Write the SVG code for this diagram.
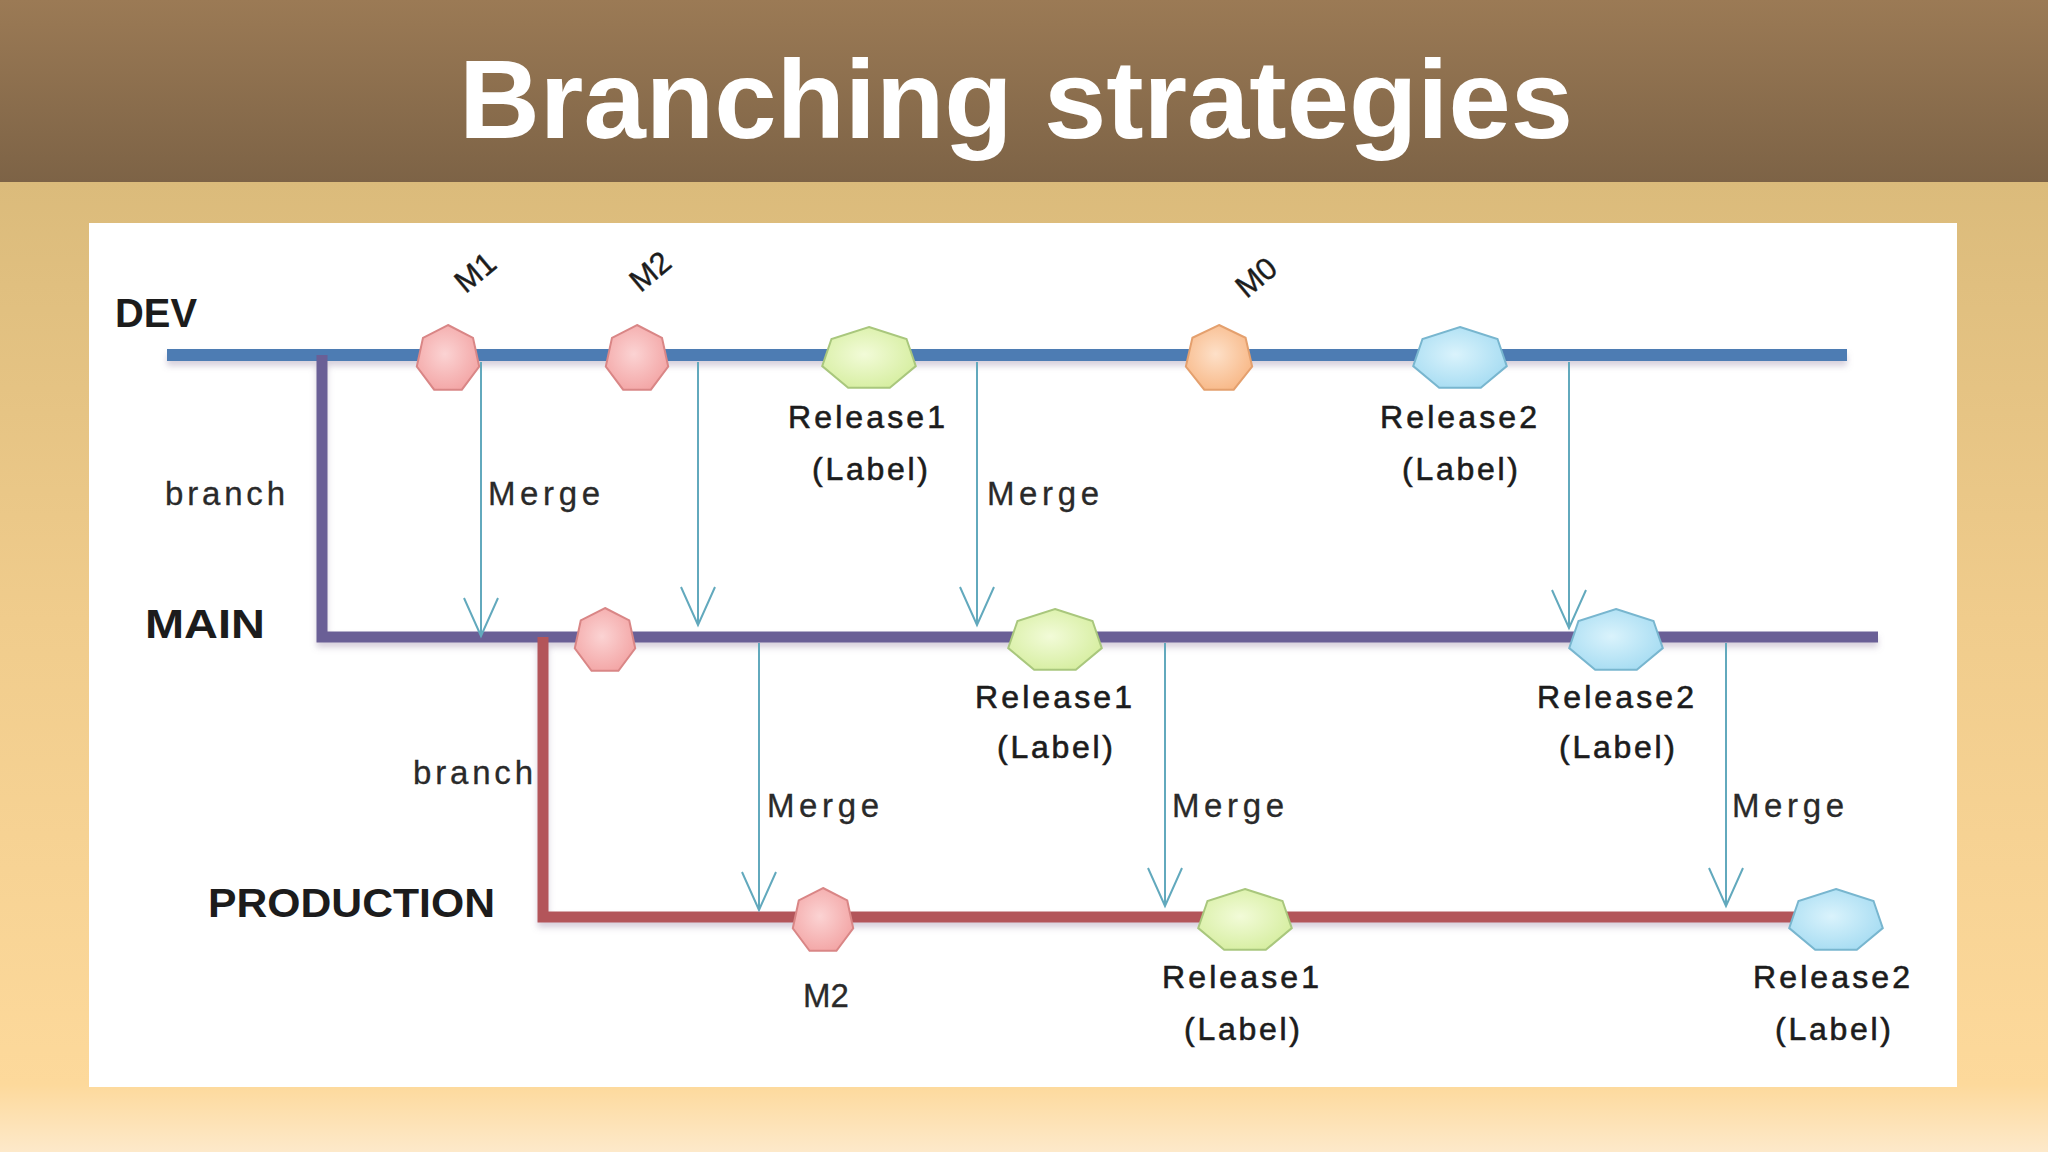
<svg xmlns="http://www.w3.org/2000/svg" width="2048" height="1152" viewBox="0 0 2048 1152">
  <defs>
    <linearGradient id="hdr" x1="0" y1="0" x2="0" y2="1">
      <stop offset="0" stop-color="#9b7a55"/>
      <stop offset="1" stop-color="#7d6346"/>
    </linearGradient>
    <linearGradient id="body" x1="0" y1="182" x2="0" y2="1152" gradientUnits="userSpaceOnUse">
      <stop offset="0" stop-color="#dbbb7b"/>
      <stop offset="0.45" stop-color="#f0cc8c"/>
      <stop offset="0.93" stop-color="#fdd99b"/>
      <stop offset="1" stop-color="#fde9ca"/>
    </linearGradient>
    <radialGradient id="gPink" cx="0.45" cy="0.45" r="0.6">
      <stop offset="0" stop-color="#fbd3d3"/>
      <stop offset="1" stop-color="#f3a5a5"/>
    </radialGradient>
    <radialGradient id="gGreen" cx="0.45" cy="0.45" r="0.6">
      <stop offset="0" stop-color="#f2fbd8"/>
      <stop offset="1" stop-color="#d6eea0"/>
    </radialGradient>
    <radialGradient id="gOrange" cx="0.45" cy="0.45" r="0.6">
      <stop offset="0" stop-color="#fde0c8"/>
      <stop offset="1" stop-color="#f8b887"/>
    </radialGradient>
    <radialGradient id="gBlue" cx="0.45" cy="0.45" r="0.6">
      <stop offset="0" stop-color="#daf3fc"/>
      <stop offset="1" stop-color="#a6dcf2"/>
    </radialGradient>
    <filter id="shadow" x="-5%" y="-50%" width="110%" height="300%">
      <feDropShadow dx="0" dy="5" stdDeviation="3" flood-color="#8a7a9a" flood-opacity="0.35"/>
    </filter>
    <polygon id="hept" points="0,-1 0.7818,-0.6235 0.9749,0.2225 0.4339,0.901 -0.4339,0.901 -0.9749,0.2225 -0.7818,-0.6235" vector-effect="non-scaling-stroke"/>
    <marker id="vhead" markerUnits="userSpaceOnUse" markerWidth="60" markerHeight="60" refX="0" refY="0" orient="auto" overflow="visible">
      <path d="M-38,-17 L0,0 L-38,17" fill="none" stroke="#62a9bd" stroke-width="2"/>
    </marker>
  </defs>
  <style>
    .lbl { font-family: "Liberation Sans", "DejaVu Sans", sans-serif; fill: #1c1c1c; }
    .big { font-weight: bold; font-size: 40px; }
    .reg { font-size: 33px; fill: #2a2a2a; stroke: #2a2a2a; stroke-width: 0.3px; }
    .rel { font-size: 32px; stroke: #1c1c1c; stroke-width: 0.6px; }
    .rot { font-size: 31px; stroke: #1c1c1c; stroke-width: 0.4px; }
    .merge { stroke: #62a9bd; stroke-width: 2; fill: none; marker-end: url(#vhead); }
    .pink { fill: url(#gPink); stroke: #d98686; stroke-width: 2; }
    .green { fill: url(#gGreen); stroke: #a9c77d; stroke-width: 2; }
    .orange { fill: url(#gOrange); stroke: #e4a06e; stroke-width: 2; }
    .blue { fill: url(#gBlue); stroke: #78b6cf; stroke-width: 2; }
  </style>

  <!-- background -->
  <rect x="0" y="0" width="2048" height="1152" fill="url(#body)"/>
  <rect x="0" y="0" width="2048" height="182" fill="url(#hdr)"/>
  <text x="1016" y="138" text-anchor="middle" font-family="Liberation Sans, Arial, sans-serif" font-weight="bold" font-size="112" fill="#ffffff">Branching strategies</text>
  <rect x="89" y="223" width="1868" height="864" fill="#ffffff"/>

  <!-- branch lines -->
  <g id="branches" filter="url(#shadow)" fill="none" stroke-linecap="butt">
    <line x1="167" y1="355" x2="1847" y2="355" stroke="#4d7bb3" stroke-width="12"/>
    <polyline points="322,355 322,637 1878,637" stroke="#6b5e96" stroke-width="11" stroke-linejoin="miter"/>
    <polyline points="543,637 543,917 1800,917" stroke="#b3555a" stroke-width="11" stroke-linejoin="miter"/>
  </g>

  <!-- merge connectors -->
  <g id="connectors">
    <line class="merge" x1="481" y1="362" x2="481" y2="636"/>
    <line class="merge" x1="698" y1="362" x2="698" y2="625"/>
    <line class="merge" x1="977" y1="362" x2="977" y2="625"/>
    <line class="merge" x1="1569" y1="362" x2="1569" y2="628"/>
    <line class="merge" x1="759" y1="643" x2="759" y2="910"/>
    <line class="merge" x1="1165" y1="643" x2="1165" y2="906"/>
    <line class="merge" x1="1726" y1="643" x2="1726" y2="906"/>
  </g>

  <!-- nodes -->
  <g id="node-dev-m1"><use href="#hept" class="pink" transform="translate(448,359) scale(32,34)"/></g>
  <g id="node-dev-m2"><use href="#hept" class="pink" transform="translate(637,359) scale(32,34)"/></g>
  <g id="node-dev-release1"><use href="#hept" class="green" transform="translate(869,359) scale(48,32)"/></g>
  <g id="node-dev-m0"><use href="#hept" class="orange" transform="translate(1219,359) scale(34,34)"/></g>
  <g id="node-dev-release2"><use href="#hept" class="blue" transform="translate(1460,359) scale(48,32)"/></g>
  <g id="node-main-m"><use href="#hept" class="pink" transform="translate(605,641) scale(31,33)"/></g>
  <g id="node-main-release1"><use href="#hept" class="green" transform="translate(1055,641) scale(48,32)"/></g>
  <g id="node-main-release2"><use href="#hept" class="blue" transform="translate(1616,641) scale(48,32)"/></g>
  <g id="node-prod-m2"><use href="#hept" class="pink" transform="translate(823,921) scale(31,33)"/></g>
  <g id="node-prod-release1"><use href="#hept" class="green" transform="translate(1245,921) scale(48,32)"/></g>
  <g id="node-prod-release2"><use href="#hept" class="blue" transform="translate(1836,921) scale(48,32)"/></g>

  <!-- labels -->
  <g id="labels" class="lbl">
    <text class="big" x="115" y="327" textLength="82" lengthAdjust="spacingAndGlyphs">DEV</text>
    <text class="big" x="145" y="638" font-size="42" textLength="120" lengthAdjust="spacingAndGlyphs">MAIN</text>
    <text class="big" x="208" y="917" textLength="287" lengthAdjust="spacingAndGlyphs">PRODUCTION</text>

    <text class="reg" x="165" y="505" textLength="120" lengthAdjust="spacing">branch</text>
    <text class="reg" x="413" y="784" textLength="120" lengthAdjust="spacing">branch</text>

    <text class="reg" x="488" y="505" textLength="112" lengthAdjust="spacing">Merge</text>
    <text class="reg" x="987" y="505" textLength="112" lengthAdjust="spacing">Merge</text>
    <text class="reg" x="767" y="817" textLength="112" lengthAdjust="spacing">Merge</text>
    <text class="reg" x="1172" y="817" textLength="112" lengthAdjust="spacing">Merge</text>
    <text class="reg" x="1732" y="817" textLength="112" lengthAdjust="spacing">Merge</text>

    <text class="rot" transform="translate(475,272) rotate(-40)" text-anchor="middle" y="11">M1</text>
    <text class="rot" transform="translate(650,271) rotate(-40)" text-anchor="middle" y="11">M2</text>
    <text class="rot" transform="translate(1256,277) rotate(-40)" text-anchor="middle" y="11">M0</text>

    <text class="rel" x="788" y="428" textLength="157" lengthAdjust="spacing">Release1</text>
    <text class="rel" x="812" y="480" textLength="116" lengthAdjust="spacing">(Label)</text>
    <text class="rel" x="1380" y="428" textLength="157" lengthAdjust="spacing">Release2</text>
    <text class="rel" x="1402" y="480" textLength="116" lengthAdjust="spacing">(Label)</text>

    <text class="rel" x="975" y="708" textLength="157" lengthAdjust="spacing">Release1</text>
    <text class="rel" x="997" y="758" textLength="116" lengthAdjust="spacing">(Label)</text>
    <text class="rel" x="1537" y="708" textLength="157" lengthAdjust="spacing">Release2</text>
    <text class="rel" x="1559" y="758" textLength="116" lengthAdjust="spacing">(Label)</text>

    <text class="reg" x="826" y="1007" font-size="34" text-anchor="middle">M2</text>
    <text class="rel" x="1162" y="988" textLength="157" lengthAdjust="spacing">Release1</text>
    <text class="rel" x="1184" y="1040" textLength="116" lengthAdjust="spacing">(Label)</text>
    <text class="rel" x="1753" y="988" textLength="157" lengthAdjust="spacing">Release2</text>
    <text class="rel" x="1775" y="1040" textLength="116" lengthAdjust="spacing">(Label)</text>
  </g>
</svg>
